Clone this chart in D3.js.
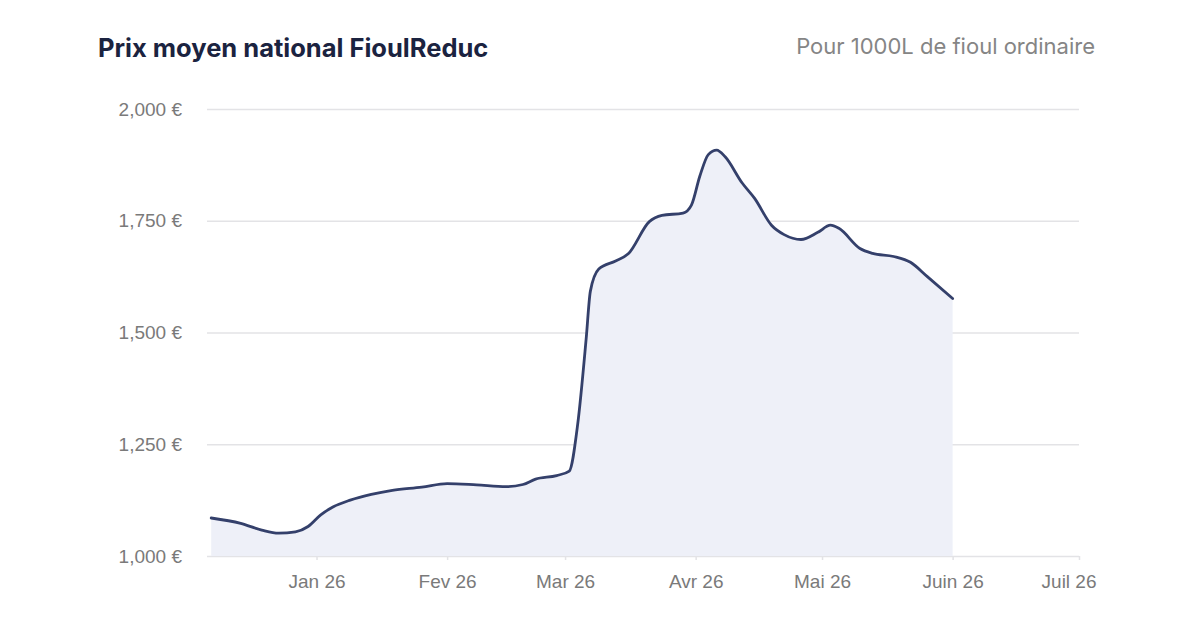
<!DOCTYPE html>
<html>
<head>
<meta charset="utf-8">
<script src="https://cdn.jsdelivr.net/npm/d3@7"></script>
<style>
  html, body { margin: 0; padding: 0; background: #ffffff; }
  svg { display: block; }
</style>
</head>
<body>
<svg id="chart" width="1200" height="627"></svg>
<script>
// ---- Data ----
const title = "Prix moyen national FioulReduc";
const subtitle = "Pour 1000L de fioul ordinaire";

const dates = [
  "2025-12-07","2025-12-14","2025-12-19","2025-12-23","2025-12-27","2025-12-30",
  "2026-01-02","2026-01-05","2026-01-09","2026-01-14","2026-01-19","2026-01-26",
  "2026-02-01","2026-02-08","2026-02-15","2026-02-19","2026-02-22","2026-02-27",
  "2026-03-02","2026-03-04","2026-03-06","2026-03-07","2026-03-09","2026-03-13",
  "2026-03-16","2026-03-21","2026-03-24","2026-03-29","2026-03-31","2026-04-02",
  "2026-04-04","2026-04-06","2026-04-08","2026-04-12","2026-04-15","2026-04-19",
  "2026-04-22","2026-04-26","2026-04-30","2026-05-03","2026-05-05","2026-05-10",
  "2026-05-13","2026-05-18","2026-05-22","2026-05-26","2026-06-01"
];
const prices = [
  1085, 1073, 1058, 1051, 1054, 1066,
  1092, 1110, 1125, 1138, 1147, 1154,
  1162, 1159, 1155, 1160, 1172, 1180,
  1190, 1295, 1485, 1592, 1642, 1660,
  1676, 1748, 1762, 1767, 1785, 1850,
  1898, 1908, 1893, 1835, 1800, 1740,
  1719, 1708, 1724, 1740, 1733, 1688,
  1677, 1670, 1657, 1625, 1576
];

const yTicks = [1000, 1250, 1500, 1750, 2000];
const xTickDates = ["2026-01-01","2026-02-01","2026-03-01","2026-04-01","2026-05-01","2026-06-01","2026-07-01"];
const xTickLabels = ["Jan 26","Fev 26","Mar 26","Avr 26","Mai 26","Juin 26","Juil 26"];
const xDomain = ["2025-12-06", "2026-07-01"];
const yDomain = [1000, 2000];

// ---- Chart ----
const parse = d3.utcParse("%Y-%m-%d");
const data = dates.map((d, i) => ({ date: parse(d), value: prices[i] }));

const svg = d3.select("#chart");
const margin = { left: 207, right: 1200 - 1079, top: 109, bottom: 627 - 556 };

const x = d3.scaleUtc()
  .domain(xDomain.map(parse))
  .range([margin.left, 1200 - margin.right]);
const y = d3.scaleLinear()
  .domain(yDomain)
  .range([627 - margin.bottom, margin.top]);

// Title and subtitle
svg.append("text")
  .attr("x", 98).attr("y", 57)
  .attr("font-family", "Inter, 'Open Sans', sans-serif")
  .attr("font-weight", 700)
  .attr("font-size", 25.5)
  .attr("fill", "#1b2340")
  .text(title);

svg.append("text")
  .attr("x", 1095).attr("y", 54)
  .attr("text-anchor", "end")
  .attr("font-family", "Inter, 'Open Sans', sans-serif")
  .attr("font-size", 22)
  .attr("fill", "#858585")
  .text(subtitle);

// Y gridlines + labels
const yAxis = d3.axisLeft(y)
  .tickValues(yTicks)
  .tickSize(-(x.range()[1] - x.range()[0]))
  .tickPadding(25)
  .tickFormat(d => d3.format(",")(d) + " €");

const gy = svg.append("g")
  .attr("transform", `translate(${margin.left},0)`)
  .call(yAxis);
gy.select(".domain").remove();
gy.selectAll(".tick line").attr("stroke", "#e3e3e6").attr("stroke-width", 1.5);
gy.selectAll(".tick text")
  .attr("font-family", "'Liberation Sans', Arial, sans-serif")
  .attr("font-size", 19)
  .attr("fill", "#7a7a7a");

// Area + line
const area = d3.area()
  .x(d => x(d.date))
  .y0(y(yDomain[0]))
  .y1(d => y(d.value))
  .curve(d3.curveMonotoneX);

const line = d3.line()
  .x(d => x(d.date))
  .y(d => y(d.value))
  .curve(d3.curveMonotoneX);

svg.append("path")
  .datum(data)
  .attr("d", area)
  .attr("fill", "#eef0f8");

svg.append("path")
  .datum(data)
  .attr("d", line)
  .attr("fill", "none")
  .attr("stroke", "#34406b")
  .attr("stroke-width", 2.8)
  .attr("stroke-linejoin", "round")
  .attr("stroke-linecap", "round");

// X axis
const xAxis = d3.axisBottom(x)
  .tickValues(xTickDates.map(parse))
  .tickSize(4)
  .tickPadding(15)
  .tickFormat((d, i) => xTickLabels[i]);

const gx = svg.append("g")
  .attr("transform", `translate(0,${y(yDomain[0])})`)
  .call(xAxis);
gx.select(".domain").remove();
gx.selectAll(".tick line").attr("stroke", "#e3e3e6").attr("stroke-width", 1.5);
gx.selectAll(".tick text")
  .attr("font-family", "'Liberation Sans', Arial, sans-serif")
  .attr("font-size", 19)
  .attr("fill", "#7a7a7a");
// last label kept inside the chart edge
gx.selectAll(".tick text")
  .filter((d, i, n) => i === n.length - 1)
  .attr("text-anchor", "end")
  .attr("x", 17);
</script>
</body>
</html>
